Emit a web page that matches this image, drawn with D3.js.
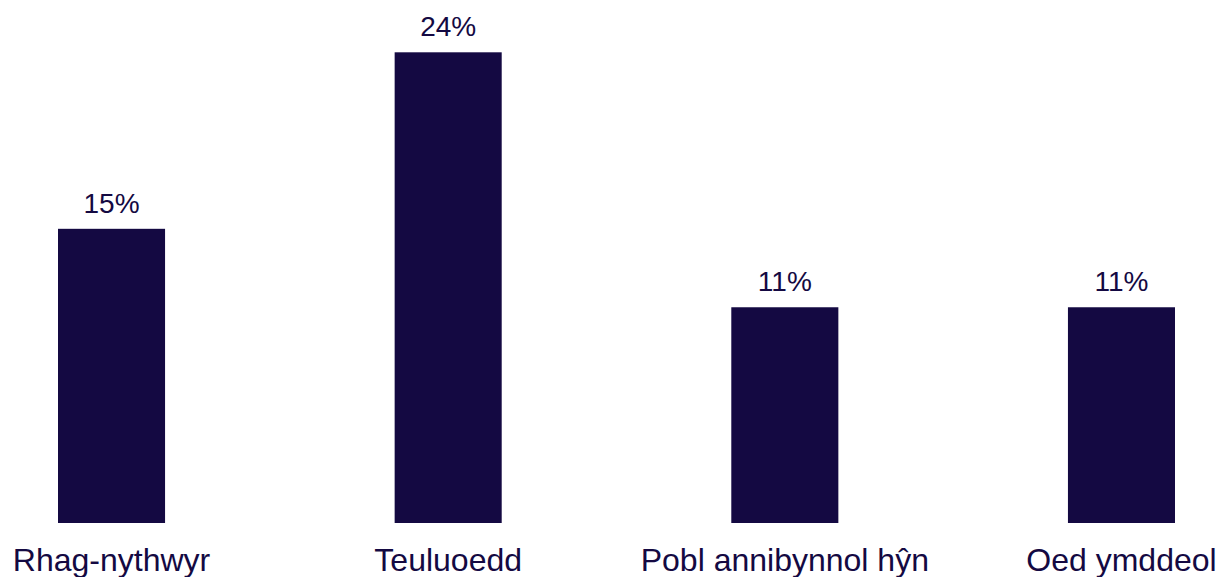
<!DOCTYPE html>
<html><head><meta charset="utf-8">
<script src="https://cdn.jsdelivr.net/npm/d3@7"></script>
<style>html,body{margin:0;padding:0;background:#fff;}</style>
</head><body>
<svg id="chart" width="1221" height="577"></svg>
<script>
const categories = ["Rhag-nythwyr", "Teuluoedd", "Pobl annibynnol hŷn", "Oed ymddeol"];
const values = [15, 24, 11, 11];
const valueLabels = ["15%", "24%", "11%", "11%"];

const color = "#140942";
const svg = d3.select("#chart");
const baseY = 523;
const x = d3.scaleBand().domain(categories).range([58, 1175]).paddingInner(0.682).paddingOuter(0);
const y = d3.scaleLinear().domain([0, 24]).range([baseY, 52.3]);

svg.selectAll("rect.bar").data(categories).join("rect")
  .attr("class", "bar")
  .attr("x", d => x(d))
  .attr("width", x.bandwidth())
  .attr("y", (d, i) => y(values[i]))
  .attr("height", (d, i) => baseY - y(values[i]))
  .attr("fill", color);

svg.selectAll("text.val").data(categories).join("text")
  .attr("class", "val")
  .attr("x", d => x(d) + x.bandwidth() / 2)
  .attr("y", (d, i) => y(values[i]) - 16)
  .attr("text-anchor", "middle")
  .attr("font-family", "Liberation Sans, Arial, sans-serif")
  .attr("font-size", 28)
  .attr("fill", color)
  .text((d, i) => valueLabels[i]);

svg.selectAll("text.cat").data(categories).join("text")
  .attr("class", "cat")
  .attr("x", d => x(d) + x.bandwidth() / 2)
  .attr("y", 570.5)
  .attr("text-anchor", "middle")
  .attr("font-family", "Liberation Sans, Arial, sans-serif")
  .attr("font-size", 32)
  .attr("fill", color)
  .text(d => d);
</script>
</body></html>
